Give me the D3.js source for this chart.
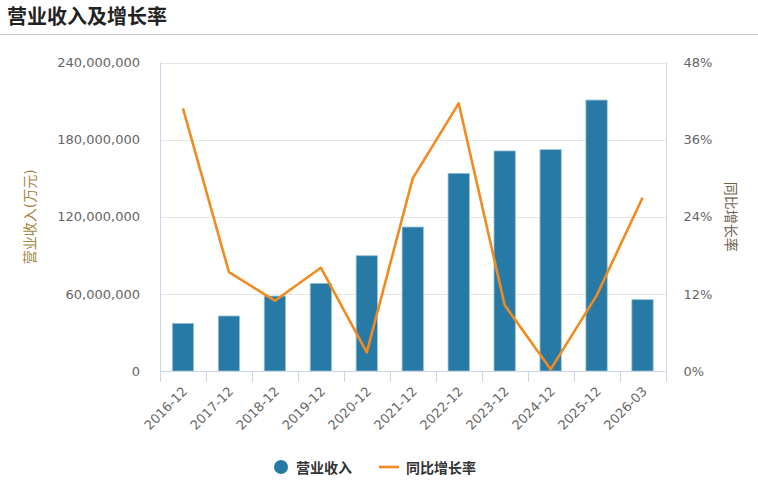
<!DOCTYPE html>
<html>
<head>
<meta charset="utf-8">
<script src="https://cdn.jsdelivr.net/npm/d3@7"></script>
<style>
    body { margin: 0; background: #fff; }
    text { font-family: "DejaVu Sans", "Noto Sans CJK SC", sans-serif; }
</style>
</head>
<body>
<div id="chart"></div>
<script>
const W = 758;
const H = 490;

// data
const periods = ["2016-12", "2017-12", "2018-12", "2019-12", "2020-12", "2021-12",
                 "2022-12", "2023-12", "2024-12", "2025-12", "2026-03"];
const revenue = [37100000, 42800000, 58300000, 68200000, 89700000, 112000000,
                 153800000, 171200000, 172200000, 210800000, 55500000];
const growth = [40.87, 15.40, 10.94, 16.07, 2.91, 29.98, 41.65, 10.27, 0.26, 11.72, 26.96];
const leftTicks = [0, 60000000, 120000000, 180000000, 240000000];
const rightTicks = [0, 12, 24, 36, 48];

const plot = {left: 160, right: 665.5, top: 62.5, bottom: 371};
const BAR_COLOR = "#277aa5";
const LINE_COLOR = "#f28b1f";
const AXIS_COLOR = "#ccd6eb";
const GRID_COLOR = "#e6e6e6";

const svg = d3.select("#chart").append("svg")
    .attr("width", W)
    .attr("height", H);

// title + separator
svg.append("text")
    .attr("x", 7).attr("y", 24)
    .style("font-size", "20px")
    .style("font-weight", "bold")
    .style("fill", "#222")
    .text("营业收入及增长率");
svg.append("line")
    .attr("x1", 0).attr("x2", W)
    .attr("y1", 34.5).attr("y2", 34.5)
    .style("stroke", "#c8c8c8");

const x = d3.scaleBand().domain(periods).range([plot.left, plot.right]);
const yL = d3.scaleLinear().domain([0, 240000000]).range([plot.bottom, plot.top]);
const yR = d3.scaleLinear().domain([0, 48]).range([plot.bottom, plot.top]);

// grid
svg.append("g")
    .selectAll("line")
    .data(leftTicks.slice(1))
    .enter()
    .append("line")
    .attr("x1", plot.left).attr("x2", plot.right)
    .attr("y1", d => Math.round(yL(d)) + 0.5)
    .attr("y2", d => Math.round(yL(d)) + 0.5)
    .style("stroke", GRID_COLOR);

// left axis
const fmt = d3.format(",");
const gL = svg.append("g").attr("transform", `translate(${plot.left},0)`);
gL.call(d3.axisLeft(yL).tickValues(leftTicks).tickSize(0).tickPadding(20).tickFormat(fmt));
gL.select(".domain").remove();
gL.selectAll("text").style("font-size", "13px").style("fill", "#666").style("font-family", null);

// right axis
const gR = svg.append("g").attr("transform", `translate(${plot.right},0)`);
gR.call(d3.axisRight(yR).tickValues(rightTicks).tickSize(0).tickPadding(18).tickFormat(d => d + "%"));
gR.select(".domain").remove();
gR.selectAll("text").style("font-size", "13px").style("fill", "#666").style("font-family", null);

// vertical axis lines
[plot.left, plot.right].forEach(function(px){
    svg.append("line")
        .attr("x1", Math.round(px) + 0.5).attr("x2", Math.round(px) + 0.5)
        .attr("y1", plot.top).attr("y2", plot.bottom + 11)
        .style("stroke", AXIS_COLOR);
});

// bars
svg.append("g")
    .selectAll("rect")
    .data(revenue)
    .enter()
    .append("rect")
    .attr("x", (d, i) => x(periods[i]) + x.bandwidth() * 0.268)
    .attr("width", x.bandwidth() * 0.464)
    .attr("y", d => yL(d))
    .attr("height", d => plot.bottom - yL(d))
    .style("fill", BAR_COLOR)
    .style("stroke", "#9cc3d8")
    .style("stroke-width", 0.8);

// x axis
const gX = svg.append("g").attr("transform", `translate(0,${plot.bottom})`);
gX.append("line")
    .attr("x1", plot.left).attr("x2", plot.right)
    .attr("y1", 0.5).attr("y2", 0.5)
    .style("stroke", AXIS_COLOR);
gX.selectAll("line.tick")
    .data(periods.slice(1))
    .enter()
    .append("line")
    .attr("class", "tick")
    .attr("x1", d => Math.round(x(d)) + 0.5)
    .attr("x2", d => Math.round(x(d)) + 0.5)
    .attr("y1", 0).attr("y2", 11)
    .style("stroke", AXIS_COLOR);
gX.selectAll("text")
    .data(periods)
    .enter()
    .append("text")
    .attr("transform", d => `translate(${x(d) + x.bandwidth() / 2 + 2},${18}) rotate(-45)`)
    .attr("text-anchor", "end")
    .attr("dy", "0.35em")
    .style("font-size", "13px")
    .style("fill", "#666")
    .text(d => d);

// growth line
const line = d3.line()
    .x((d, i) => x(periods[i]) + x.bandwidth() / 2)
    .y(d => yR(d));
svg.append("path")
    .datum(growth)
    .attr("d", line)
    .style("fill", "none")
    .style("stroke", LINE_COLOR)
    .style("stroke-width", 2.6)
    .style("stroke-linejoin", "round");

// axis titles
svg.append("text")
    .attr("transform", `translate(35,${(plot.top + plot.bottom) / 2}) rotate(-90)`)
    .attr("text-anchor", "middle")
    .style("font-size", "14px")
    .style("fill", "#a08640")
    .text("营业收入(万元)");
svg.append("text")
    .attr("transform", `translate(726,${(plot.top + plot.bottom) / 2}) rotate(90)`)
    .attr("text-anchor", "middle")
    .style("font-size", "14px")
    .style("fill", "#6e6253")
    .text("同比增长率");

// legend
const lg = svg.append("g").attr("transform", "translate(0,467)");
lg.append("circle")
    .attr("cx", 281).attr("cy", 0).attr("r", 7)
    .style("fill", BAR_COLOR);
lg.append("text")
    .attr("x", 296).attr("y", 5.5)
    .style("font-size", "14px")
    .style("font-weight", "bold")
    .style("fill", "#333")
    .text("营业收入");
lg.append("line")
    .attr("x1", 379).attr("x2", 399)
    .attr("y1", 0).attr("y2", 0)
    .style("stroke", LINE_COLOR)
    .style("stroke-width", 2.6);
lg.append("text")
    .attr("x", 406).attr("y", 5.5)
    .style("font-size", "14px")
    .style("font-weight", "bold")
    .style("fill", "#333")
    .text("同比增长率");
</script>
</body>
</html>
